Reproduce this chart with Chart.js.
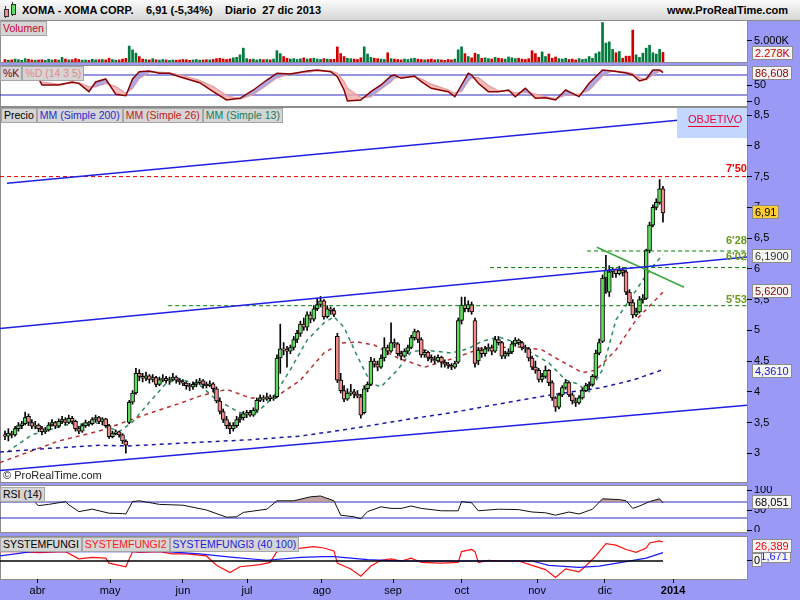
<!DOCTYPE html>
<html>
<head>
<meta charset="utf-8">
<title>XOMA - XOMA CORP.</title>
<script src="https://cdn.jsdelivr.net/npm/chart.js@4.4.1/dist/chart.umd.min.js"></script>
<style>
  body { margin: 0; width: 800px; height: 600px; position: relative; overflow: hidden; background: #9a9af6; font-family: "Liberation Sans", Arial, sans-serif; font-size: 11px; }
  .abs { position: absolute; white-space: nowrap; z-index: 2; }
  .panel { position: absolute; left: 0; width: 748px; background: #fff; border: 1px solid #8c8c8c; box-sizing: border-box; }
  canvas { position: absolute; left: 0; z-index: 1; }
  .tags { position: absolute; z-index: 2; display: flex; font-size: 10.5px; }
  .tag { height: 15px; line-height: 13px; padding: 0 2px; background: #d5d5d5; border: 1px solid #a6a6a6; box-sizing: border-box; white-space: nowrap; }
  .val { position: absolute; z-index: 3; left: 752px; height: 14px; line-height: 12px; padding: 0 2px; background: #f6f6f6; border: 1px solid #8c8c8c; box-sizing: border-box; }
  .note { position: absolute; z-index: 2; font-weight: bold; }
</style>
</head>
<body>

<!-- title bar -->
<div class="abs" style="left:0;top:0;width:800px;height:21px;background:linear-gradient(#fbfbfb,#d6d6d6);border-bottom:1px solid #8c8c8c;box-sizing:border-box;z-index:0"></div>
<div class="abs" style="left:4px;top:9px;width:3px;height:6px;background:#f08c8c;border:1px solid #333"></div>
<div class="abs" style="left:5px;top:6px;width:1px;height:12px;background:#333;z-index:1"></div>
<div class="abs" style="left:11px;top:4px;width:3px;height:9px;background:#5fdc5f;border:1px solid #333"></div>
<div class="abs" style="left:12px;top:2px;width:1px;height:14px;background:#333;z-index:1"></div>
<div class="abs" style="left:22px;top:4px;font-size:11px;font-weight:bold">XOMA - XOMA CORP.</div>
<div class="abs" style="left:146px;top:4px;font-size:11px;font-weight:bold">6,91 (-5,34%)</div>
<div class="abs" style="left:225px;top:4px;font-size:11px;font-weight:bold">Diario&nbsp; 27 dic 2013</div>
<div class="abs" style="left:667px;top:4px;font-size:11px;font-weight:bold">www.ProRealTime.com</div>

<!-- panels -->
<div class="panel" style="top:20px;height:43px"></div>
<div class="panel" style="top:65px;height:42px"></div>
<div class="panel" style="top:107px;height:376px"></div>
<div class="panel" style="top:485px;height:48px"></div>
<div class="panel" style="top:536px;height:44px"></div>

<canvas id="volChart"></canvas>
<canvas id="stochChart"></canvas>
<canvas id="priceChart"></canvas>
<canvas id="rsiChart"></canvas>
<canvas id="fungiChart"></canvas>

<!-- panel tags -->
<div class="tags" style="left:0;top:21px"><div class="tag" style="color:#cc0033">Volumen</div></div>
<div class="tags" style="left:0;top:66px"><div class="tag" style="color:#8b0000">%K</div><div class="tag" style="color:#e48888">%D (14 3 5)</div></div>
<div class="tags" style="left:1px;top:108px"><div class="tag" style="color:#000">Precio</div><div class="tag" style="color:#2a2ad0">MM (Simple 200)</div><div class="tag" style="color:#c02020">MM (Simple 26)</div><div class="tag" style="color:#108060">MM (Simple 13)</div></div>
<div class="tags" style="left:0;top:487px"><div class="tag" style="color:#000">RSI (14)</div></div>
<div class="tags" style="left:0;top:537px"><div class="tag" style="color:#000">SYSTEMFUNGI</div><div class="tag" style="color:#ff1a1a">SYSTEMFUNGI2</div><div class="tag" style="color:#2020e0">SYSTEMFUNGI3 (40 100)</div></div>

<!-- price annotations -->
<div class="abs" style="left:677px;top:108px;width:70px;height:30px;background:#c4d8ff"></div>
<div class="abs" style="left:688px;top:113px;color:#e8003c;font-size:11px">OBJETIVO</div>
<div class="abs" style="left:688px;top:126px;width:51px;height:1px;background:#e8003c"></div>
<div class="note" style="left:726px;top:162px;color:#ee0000">7'50</div>
<div class="note" style="left:726px;top:234px;color:#6a9a1a">6'28</div>
<div class="note" style="left:726px;top:250px;color:#6a9a1a">6'02</div>
<div class="note" style="left:726px;top:293px;color:#6a9a1a">5'53</div>
<div class="abs" style="left:3px;top:469px;color:#222;font-size:11px">© ProRealTime.com</div>

<!-- right value boxes -->
<div class="val" style="top:46px;color:#d00000">2.278K</div>
<div class="val" style="top:66px;color:#8b0000">86,608</div>
<div class="val" style="top:205px;background:#ffcc33;color:#000">6,91</div>
<div class="val" style="top:249px;color:#333">6,1900</div>
<div class="val" style="top:284px;color:#8b0000">5,6200</div>
<div class="val" style="top:364px;color:#1a1ad0">4,3610</div>
<div class="val" style="top:495px;color:#000">68,051</div>
<div class="val" style="top:549px;color:#2020e0">11,671</div>
<div class="val" style="top:539px;color:#ff0000">26,389</div>
<div class="val" style="top:553px;color:#000;padding:0 1px">0</div>

<script>
const FONT = '"Liberation Sans", Arial, sans-serif';
const X_MIN = -1.49, X_MAX = 221.03;

// daily candles [open, high, low, close], 18 mar - 27 dic 2013
const ohlc = [
  [3.30,3.36,3.22,3.28],[3.28,3.40,3.20,3.33],[3.33,3.36,3.25,3.30],[3.30,3.44,3.28,3.40],[3.40,3.50,3.36,3.45],[3.45,3.52,3.40,3.48],[3.48,3.67,3.46,3.58],[3.60,3.64,3.45,3.50],[3.50,3.55,3.40,3.44],[3.44,3.52,3.40,3.46],
  [3.46,3.48,3.35,3.40],[3.40,3.44,3.30,3.35],[3.35,3.42,3.32,3.38],[3.38,3.50,3.36,3.46],[3.46,3.55,3.44,3.50],[3.50,3.52,3.40,3.44],[3.44,3.56,3.42,3.52],[3.52,3.60,3.48,3.55],[3.55,3.58,3.46,3.50],[3.50,3.62,3.48,3.57],
  [3.57,3.60,3.48,3.52],[3.52,3.54,3.36,3.40],[3.40,3.44,3.32,3.36],[3.36,3.48,3.34,3.45],[3.45,3.54,3.42,3.50],[3.50,3.52,3.44,3.48],[3.48,3.58,3.46,3.55],[3.55,3.62,3.50,3.58],[3.58,3.60,3.48,3.52],[3.52,3.58,3.46,3.56],
  [3.56,3.57,3.42,3.45],[3.45,3.47,3.24,3.27],[3.27,3.36,3.25,3.32],[3.32,3.38,3.30,3.35],[3.35,3.36,3.26,3.30],[3.30,3.32,3.16,3.20],[3.20,3.22,3.00,3.13],[3.50,3.86,3.48,3.83],[3.83,4.02,3.80,3.98],[3.98,4.38,3.96,4.30],
  [4.30,4.36,4.18,4.25],[4.25,4.30,4.16,4.22],[4.22,4.32,4.18,4.26],[4.26,4.28,4.14,4.20],[4.20,4.28,4.16,4.23],[4.23,4.25,4.08,4.12],[4.12,4.24,4.10,4.20],[4.20,4.28,4.16,4.22],[4.22,4.25,4.14,4.18],[4.18,4.24,4.12,4.20],
  [4.20,4.30,4.18,4.24],[4.24,4.26,4.14,4.19],[4.19,4.22,4.12,4.16],[4.16,4.20,4.10,4.14],[4.14,4.16,4.04,4.10],[4.10,4.14,4.02,4.08],[4.08,4.16,4.04,4.12],[4.12,4.20,4.08,4.15],[4.15,4.22,4.12,4.18],[4.18,4.20,4.06,4.12],
  [4.12,4.16,4.06,4.10],[4.10,4.18,4.08,4.13],[4.13,4.15,4.00,4.05],[4.05,4.08,3.82,3.85],[3.85,3.90,3.64,3.68],[3.68,3.72,3.50,3.55],[3.55,3.60,3.40,3.45],[3.45,3.50,3.32,3.40],[3.40,3.50,3.36,3.45],[3.45,3.60,3.42,3.55],
  [3.55,3.64,3.50,3.58],[3.58,3.68,3.54,3.64],[3.64,3.70,3.58,3.66],[3.66,3.70,3.60,3.62],[3.62,3.74,3.60,3.70],[3.70,3.90,3.68,3.86],[3.86,3.95,3.84,3.90],[3.90,3.94,3.84,3.88],[3.88,3.98,3.86,3.92],[3.92,3.95,3.85,3.89],
  [3.89,3.94,3.86,3.90],[3.92,4.60,3.90,4.55],[4.55,5.10,4.30,4.70],[4.70,4.80,4.60,4.68],[4.68,4.74,4.40,4.66],[4.66,4.76,4.62,4.72],[4.72,4.90,4.68,4.85],[4.85,5.00,4.80,4.95],[4.95,5.15,4.90,5.10],[5.10,5.20,5.00,5.05],
  [5.05,5.30,5.00,5.25],[5.25,5.30,5.12,5.18],[5.18,5.40,5.15,5.35],[5.35,5.52,5.32,5.42],[5.42,5.55,5.38,5.48],[5.48,5.50,5.18,5.22],[5.22,5.40,5.20,5.35],[5.35,5.38,5.26,5.32],[5.32,5.36,5.22,5.26],[4.90,4.95,4.15,4.19],
  [4.19,4.30,3.98,4.02],[4.02,4.10,3.84,3.88],[3.88,4.05,3.86,3.98],[3.98,4.12,3.94,4.00],[4.00,4.04,3.90,3.96],[3.96,4.02,3.90,3.93],[3.92,3.96,3.57,3.62],[3.66,4.10,3.64,4.05],[4.05,4.16,4.00,4.12],[4.12,4.56,4.10,4.50],
  [4.50,4.54,4.40,4.45],[4.45,4.50,4.34,4.40],[4.40,4.60,4.38,4.55],[4.55,4.88,4.50,4.72],[4.72,4.76,4.60,4.66],[4.66,5.12,4.64,4.80],[4.80,4.86,4.72,4.78],[4.78,4.80,4.58,4.62],[4.62,4.66,4.52,4.58],[4.58,4.70,4.56,4.66],
  [4.66,4.76,4.62,4.72],[4.72,4.92,4.70,4.88],[4.88,5.02,4.84,4.98],[4.98,5.00,4.80,4.85],[4.85,4.88,4.56,4.60],[4.60,4.68,4.56,4.64],[4.64,4.66,4.50,4.56],[4.56,4.60,4.48,4.53],[4.53,4.58,4.46,4.50],[4.50,4.60,4.48,4.56],
  [4.56,4.58,4.40,4.48],[4.48,4.52,4.40,4.45],[4.45,4.48,4.38,4.43],[4.43,4.46,4.36,4.40],[4.40,4.50,4.38,4.46],[4.48,5.20,4.46,5.16],[5.16,5.54,5.10,5.41],[5.41,5.54,5.30,5.35],[5.35,5.48,5.30,5.42],[5.42,5.46,5.26,5.30],
  [5.16,5.20,4.40,4.46],[4.50,4.72,4.44,4.68],[4.68,4.72,4.56,4.62],[4.62,4.74,4.58,4.70],[4.70,4.78,4.66,4.72],[4.72,4.76,4.60,4.66],[4.66,4.90,4.64,4.85],[4.85,4.90,4.76,4.80],[4.80,4.82,4.54,4.58],[4.58,4.66,4.54,4.62],
  [4.62,4.70,4.58,4.65],[4.65,4.82,4.62,4.78],[4.78,4.88,4.74,4.84],[4.84,4.86,4.76,4.80],[4.80,4.82,4.68,4.72],[4.72,4.76,4.64,4.70],[4.70,4.72,4.50,4.55],[4.55,4.58,4.36,4.40],[4.40,4.50,4.30,4.35],[4.35,4.38,4.16,4.20],
  [4.20,4.30,4.16,4.25],[4.25,4.42,4.22,4.35],[4.35,4.36,4.10,4.15],[4.15,4.18,3.86,3.90],[3.90,3.92,3.68,3.75],[3.75,3.98,3.72,3.95],[3.95,4.10,3.92,4.07],[4.07,4.20,4.04,4.15],[4.15,4.16,3.92,3.95],[3.95,3.98,3.80,3.85],
  [3.85,3.90,3.76,3.82],[3.82,3.94,3.80,3.90],[3.90,4.06,3.88,4.02],[4.02,4.14,4.00,4.10],[4.10,4.16,4.04,4.12],[4.12,4.28,4.10,4.25],[4.25,4.68,4.22,4.63],[4.63,4.86,4.60,4.80],[4.82,5.90,4.80,5.85],[5.85,6.22,5.60,5.98],
  [5.62,6.05,5.55,5.95],[5.95,6.02,5.86,5.99],[5.99,6.00,5.86,5.92],[5.92,6.04,5.90,5.98],[5.98,6.02,5.88,5.94],[5.95,5.98,5.58,5.62],[5.62,5.66,5.40,5.45],[5.45,5.50,5.20,5.25],[5.25,5.36,5.22,5.30],[5.30,5.55,5.28,5.50],
  [5.50,5.58,5.44,5.52],[5.52,6.32,5.50,6.30],[6.30,6.76,6.26,6.71],[6.71,7.04,6.68,7.00],[7.00,7.14,6.96,7.08],[7.08,7.45,7.05,7.30],[7.30,7.34,6.76,6.91]
];

// volume in thousands of shares, one per candle
const volume = [
  600,450,500,700,550,400,800,650,500,450,
  500,550,400,650,500,600,450,1100,700,500,
  550,800,600,450,500,400,650,500,550,600,
  500,900,600,450,500,700,850,3800,2900,2100,
  1300,700,600,500,800,550,450,600,500,400,
  500,450,500,600,550,400,500,600,450,500,
  550,500,600,800,900,700,600,750,1000,1100,
  1700,3300,800,600,700,500,650,550,600,500,
  700,2700,2000,1300,900,700,800,600,750,1000,
  700,800,900,700,600,800,700,600,650,3600,
  2000,1300,900,800,700,600,1000,3600,1900,1100,
  900,800,700,600,2200,800,700,600,500,700,
  600,800,900,700,600,500,600,700,500,600,
  500,400,600,500,700,2900,3600,2000,1300,1000,
  2100,1800,900,1000,800,700,1100,900,800,700,
  1200,1000,800,900,700,600,800,2700,2000,1100,
  2400,1300,1900,900,1200,800,700,900,600,700,
  500,800,600,700,1300,900,2000,2400,9400,4500,
  4800,3000,2200,2500,900,1400,1400,7600,1700,1100,
  2100,3300,4000,2200,1900,3000,2278
];

// moving averages: [bar, value]
const ma200 = [[-1.49,3.02],[13,3.08],[28,3.13],[37,3.12],[58,3.18],[73,3.22],[88,3.28],[102,3.39],[122,3.57],[133,3.66],[142,3.75],[153,3.86],[165,3.97],[177,4.06],[187,4.19],[196,4.36]];
const ma26 = [[-1.49,2.85],[7,3.02],[16,3.20],[28,3.36],[43,3.65],[52,3.81],[58,3.93],[66,4.04],[73,3.90],[80,3.89],[88,4.19],[95,4.63],[100,4.79],[105,4.81],[110,4.76],[117,4.55],[125,4.40],[134,4.55],[142,4.71],[153,4.73],[160,4.68],[165,4.52],[172,4.31],[176,4.35],[182,4.68],[188,5.17],[196,5.62]];
const ma13 = [[0.6,3.02],[8,3.30],[18,3.46],[28,3.49],[34,3.35],[38,3.51],[43,3.83],[48,4.14],[52,4.21],[58,4.11],[63,3.87],[70,3.66],[75,3.66],[80,3.92],[85,4.36],[90,4.84],[95,5.12],[98,5.22],[101,5.05],[105,4.57],[109,4.14],[112,4.08],[117,4.36],[121,4.65],[125,4.68],[133,4.63],[138,4.70],[142,4.82],[147,4.89],[153,4.79],[157,4.63],[162,4.47],[167,4.19],[170,4.14],[174,4.00],[178,4.36],[182,5.17],[186,5.49],[192,5.98],[196,6.23]];

// trend lines and levels drawn by hand on the chart
const channelTop = [[X_MIN,5.03],[X_MAX,6.19]];
const channelLow = [[X_MIN,2.72],[X_MAX,3.78]];
const targetLine = [[0.6,7.39],[X_MAX,8.52]];
const breakLine = [[176.3,6.35],[202.3,5.70]];
const level750 = [[X_MIN,7.50],[X_MAX,7.50]];
const level628 = [[173.4,6.29],[X_MAX,6.29]];
const level602 = [[144.5,6.02],[X_MAX,6.02]];
const level553 = [[48.6,5.40],[X_MAX,5.40]];

// oscillators: [bar, value]
const stochK = [[10,70],[11,50],[16,50],[20,59],[22,55],[25,30],[27,59],[30,68],[33,22],[36,18],[38,68],[40,90],[43,92],[46,85],[49,85],[52,75],[58,57],[62,30],[66,5],[70,10],[74,35],[78,65],[81,85],[85,83],[90,92],[93,95],[97,90],[99,75],[101,35],[102,2],[106,5],[109,30],[112,50],[115,77],[116,80],[118,70],[122,77],[124,60],[127,40],[132,30],[134,15],[136,50],[138,85],[139,80],[141,55],[144,30],[147,30],[150,35],[152,15],[155,40],[158,10],[161,12],[164,5],[167,35],[171,15],[174,55],[178,95],[181,92],[185,86],[187,80],[189,62],[191,68],[193,95],[195,95],[196,87]];
const stochD = [[10,65],[11,58],[16,52],[20,55],[22,57],[25,45],[27,45],[30,55],[33,45],[36,25],[38,40],[40,70],[43,88],[46,88],[49,86],[52,80],[58,64],[62,45],[66,18],[70,8],[74,22],[78,50],[81,72],[85,84],[90,88],[93,93],[97,92],[99,85],[101,60],[102,40],[106,12],[109,15],[112,38],[115,60],[116,70],[118,75],[122,74],[124,68],[127,52],[132,35],[134,25],[136,32],[138,62],[139,72],[141,72],[144,48],[147,32],[150,32],[152,26],[155,28],[158,22],[161,15],[164,9],[167,20],[171,22],[174,35],[178,78],[181,93],[185,88],[187,84],[189,72],[191,66],[193,80],[195,92],[196,92]];
const rsi = [[9,68],[10,61],[13,64],[18,71],[19,63],[22,46],[26,52],[31,42],[35,41],[36,40],[38,71],[40,73],[44,67],[46,64],[53,62],[60,50],[66,32],[69,33],[71,44],[78,52],[81,73],[86,73],[91,83],[94,85],[98,73],[100,37],[104,33],[106,28],[108,46],[112,58],[115,54],[118,54],[121,60],[124,54],[130,48],[135,48],[136,71],[139,68],[141,48],[147,52],[153,51],[157,45],[161,43],[164,37],[168,45],[171,40],[175,52],[178,78],[183,76],[185,73],[187,54],[189,60],[192,71],[195,78],[196,68]];
const fungi2 = [[-1.49,13],[4,13],[10,11.5],[18,13],[22,3],[26,5],[30,4],[31,-3],[36,-8],[38,13],[40,12],[46,13],[50,10],[54,10],[60,7],[63,-6],[67,-16],[70,-8],[76,-5],[79,-2],[81,13],[85,16],[92,20],[95,18],[98,14],[99,-3],[103,-11],[106,-21],[109,-7],[112,1],[115,3],[118,0],[121,4],[124,-2],[130,-3],[135,-2],[136,13],[139,16],[140,13],[141,-2],[144,1],[147,0],[153,0],[157,-6],[161,-12],[164,-23],[167,-11],[171,-15],[173,-7],[176,7],[179,24],[182,22],[185,16],[188,12],[191,18],[192,25],[195,28],[196,26.4]];
const fungi3 = [[-1.49,7],[8,13],[28,13],[48,13],[58,10],[68,5],[78,1],[88,5],[95,6],[98,6],[108,2],[118,0],[157,0],[162,-6],[171,-9],[177,-7],[185,-1],[191,4],[196,11.7]];
const fungiZero = [[X_MIN,0],[196,0]];

// axis ticks
const volumeTicks = [5000];
const stochTicks = [0, 50];
const priceTicks = [3, 3.5, 4, 4.5, 5, 5.5, 6, 6.5, 7, 7.5, 8, 8.5];
const rsiTicks = [0, 50, 100];
const fungiTicks = [0];
const monthTicks = [9.7, 31.3, 53, 72.1, 94.4, 115.6, 136.1, 158.5, 178.7, 199];
const monthLabels = ['abr', 'may', 'jun', 'jul', 'ago', 'sep', 'oct', 'nov', 'dic', '2014'];

const isUp = ohlc.map(c => c[3] >= c[0]);
const comma = v => String(v).replace('.', ',');

function hiddenX() {
    return { type: 'linear', min: X_MIN, max: X_MAX, offset: false, display: false };
}

function rightAxis(min, max, values, fmt) {
    return {
        position: 'right',
        min: min,
        max: max,
        afterFit: s => { s.width = 53; s.paddingTop = 0; s.paddingBottom = 0; },
        afterBuildTicks: s => { s.ticks = values.map(v => ({ value: v })); },
        grid: { drawOnChartArea: false, tickLength: 5, color: '#000' },
        border: { display: false },
        ticks: { autoSkip: false, padding: 2, color: '#000', font: { size: 11, family: FONT }, callback: fmt }
    };
}

function line(points, color, width, dash, extra) {
    return Object.assign({
        type: 'line',
        data: points.map(p => ({ x: p[0], y: p[1] })),
        borderColor: color,
        borderWidth: width,
        borderDash: dash || [],
        pointRadius: 0,
        tension: 0,
        fill: false,
        order: 0
    }, extra || {});
}

function makeChart(id, top, height, datasets, yScale, xScale) {
    const cv = document.getElementById(id);
    cv.width = 800;
    cv.height = height;
    cv.style.top = top + 'px';
    return new Chart(cv, {
        type: 'line',
        data: { datasets: datasets },
        options: {
            animation: false,
            responsive: false,
            devicePixelRatio: 1,
            layout: { padding: 0 },
            plugins: { legend: { display: false }, tooltip: { enabled: false } },
            scales: { x: xScale || hiddenX(), y: yScale }
        }
    });
}

// volume
makeChart('volChart', 21, 41, [{
    type: 'bar',
    data: volume.map((v, i) => ({ x: i, y: v })),
    backgroundColor: volume.map((v, i) => isUp[i] ? '#007a3d' : '#d00000'),
    barThickness: 2,
    borderWidth: 0
}], rightAxis(0, 9760, volumeTicks, v => (v / 1000).toFixed(3) + 'K'));

// stochastic
makeChart('stochChart', 66, 40, [
    line(stochK, '#8b0000', 1.5, [], { fill: { target: 1, above: 'rgba(150,150,225,0.8)', below: 'rgba(242,170,170,0.8)' } }),
    line(stochD, '#eaa0a0', 1.5),
    line([[X_MIN, 80], [X_MAX, 80]], '#2b2bbf', 1),
    line([[X_MIN, 20], [X_MAX, 20]], '#2b2bbf', 1)
], rightAxis(-13, 107, stochTicks, v => String(v)));

// price
makeChart('priceChart', 108, 374, [
    line(channelTop, '#1f1fe6', 1.5),
    line(channelLow, '#1f1fe6', 1.5),
    line(targetLine, '#1f1fe6', 1.5),
    line(breakLine, '#3aa83a', 1.5),
    line(level750, '#ee0000', 1, [4, 3]),
    line(level628, '#008000', 1, [4, 3]),
    line(level602, '#008000', 1, [4, 3]),
    line(level553, '#008000', 1, [4, 3]),
    line(ma200, '#1a1aa6', 1.5, [4, 4], { order: 3 }),
    line(ma26, '#b83030', 1.5, [4, 4], { order: 3 }),
    line(ma13, '#2e8b60', 1.5, [4, 4], { order: 3 }),
    {
        type: 'bar',
        data: ohlc.map((c, i) => ({ x: i, y: [c[2], c[1]] })),
        backgroundColor: '#000',
        barThickness: 1,
        borderWidth: 0,
        grouped: false,
        order: 2
    },
    {
        type: 'bar',
        data: ohlc.map((c, i) => ({ x: i, y: [c[0], c[3]] })),
        backgroundColor: isUp.map(u => u ? '#5fdc5f' : '#f08c8c'),
        borderColor: '#000',
        borderWidth: 1,
        borderSkipped: false,
        barThickness: 4,
        grouped: false,
        order: 1
    }
], rightAxis(2.533, 8.615, priceTicks, comma));

// RSI
makeChart('rsiChart', 486, 46, [
    line(rsi, '#111', 1, [], { fill: { value: 70, above: 'rgba(180,140,140,0.8)', below: 'rgba(0,0,0,0)' } }),
    line([[X_MIN, 70], [X_MAX, 70]], '#2b2bbf', 1),
    line([[X_MIN, 30], [X_MAX, 30]], '#2b2bbf', 1)
], rightAxis(-5, 110, rsiTicks, v => String(v)));

// SYSTEMFUNGI + month axis
makeChart('fungiChart', 537, 63, [
    line(fungiZero, '#000', 1.5),
    line(fungi3, '#1a1aff', 1.2),
    line(fungi2, '#ff1010', 1.2)
], rightAxis(-25, 33.3, fungiTicks, v => String(v)), {
    type: 'linear',
    position: 'bottom',
    min: X_MIN,
    max: X_MAX,
    offset: false,
    afterFit: s => { s.height = 21; s.paddingLeft = 0; s.paddingRight = 0; },
    afterBuildTicks: s => { s.ticks = monthTicks.map(v => ({ value: v })); },
    grid: { drawOnChartArea: false, tickLength: 4, color: '#000' },
    border: { display: false },
    ticks: {
        autoSkip: false,
        maxRotation: 0,
        padding: 1,
        color: '#000',
        font: ctx => ({ size: 11, family: FONT, weight: monthLabels[ctx.index] === '2014' ? 'bold' : 'normal' }),
        callback: (v, i) => monthLabels[i]
    }
});
</script>
</body>
</html>
